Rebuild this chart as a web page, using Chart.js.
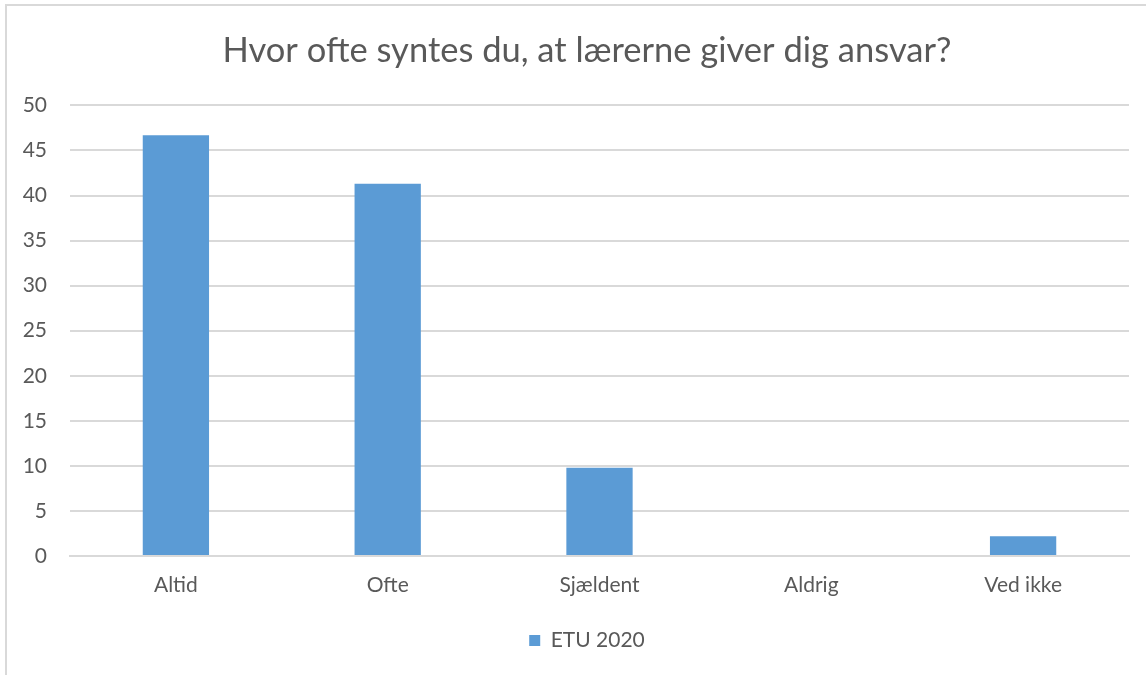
<!DOCTYPE html>
<html lang="da">
<head>
    <meta charset="UTF-8">
    <title>Hvor ofte syntes du, at lærerne giver dig ansvar?</title>
    <script src="https://cdn.jsdelivr.net/npm/chart.js"></script>
    <style>
        * { margin: 0; padding: 0; box-sizing: border-box; }
        body { width: 1146px; height: 675px; background: #fff; overflow: hidden; position: relative; }
        .frame { position: absolute; left: 5px; top: 4px; width: 1160px; height: 700px; border: 2px solid #d9d9d9; }
        .wrap { position: absolute; left: 0; top: 0; width: 1146px; height: 675px; }
    </style>
</head>
<body>
    <div class="frame"></div>
    <div class="wrap"><canvas id="chart" width="1146" height="675"></canvas></div>
    <script>
        const categories = ['Altid', 'Ofte', 'Sjældent', 'Aldrig', 'Ved ikke'];
        const etu2020 = [46.7, 41.3, 9.8, 0, 2.2];
        const yTicks = [0, 5, 10, 15, 20, 25, 30, 35, 40, 45, 50];

        const textColor = '#595959';
        const gridColor = '#d9d9d9';
        const barColor = '#5b9bd5';

        Chart.defaults.font.family = 'Lato, "Open Sans", sans-serif';
        Chart.defaults.color = textColor;

        // let the y labels spill into the left padding instead of being clipped
        const widenYLabels = {
            id: 'widenYLabels',
            afterLayout(chart) { chart.scales.y.left = 0; }
        };

        new Chart(document.getElementById('chart'), {
            type: 'bar',
            data: {
                labels: categories,
                datasets: [{
                    label: 'ETU 2020',
                    data: etu2020,
                    backgroundColor: barColor,
                    borderWidth: 0,
                    barPercentage: 0.313,
                    categoryPercentage: 1
                }]
            },
            plugins: [widenYLabels],
            options: {
                responsive: false,
                animation: false,
                devicePixelRatio: 1,
                // left padding shifts title/legend centre like the Excel original
                layout: { padding: { left: 45, right: 17, top: 0, bottom: 14 } },
                plugins: {
                    title: {
                        display: true,
                        text: 'Hvor ofte syntes du, at lærerne giver dig ansvar?',
                        color: textColor,
                        font: { size: 34.5, weight: 'normal' },
                        padding: { top: 30, bottom: 34 }
                    },
                    legend: {
                        position: 'bottom',
                        labels: {
                            boxWidth: 11,
                            boxHeight: 11,
                            padding: 23,
                            color: textColor,
                            font: { size: 21 }
                        }
                    },
                    tooltip: { enabled: false }
                },
                scales: {
                    x: {
                        afterFit: (s) => { s.height = 51; },
                        grid: { display: false, drawTicks: false },
                        border: { display: true, color: gridColor, width: 2 },
                        ticks: { padding: 17, font: { size: 21 }, color: textColor }
                    },
                    y: {
                        min: 0,
                        max: 50,
                        afterFit: (s) => { s.width = 25; },
                        afterBuildTicks: (s) => { s.ticks = yTicks.map(v => ({ value: v })); },
                        grid: { color: gridColor, lineWidth: 2, drawTicks: false },
                        border: { display: false },
                        ticks: { padding: 23, font: { size: 21 }, color: textColor }
                    }
                }
            }
        });
    </script>
</body>
</html>
